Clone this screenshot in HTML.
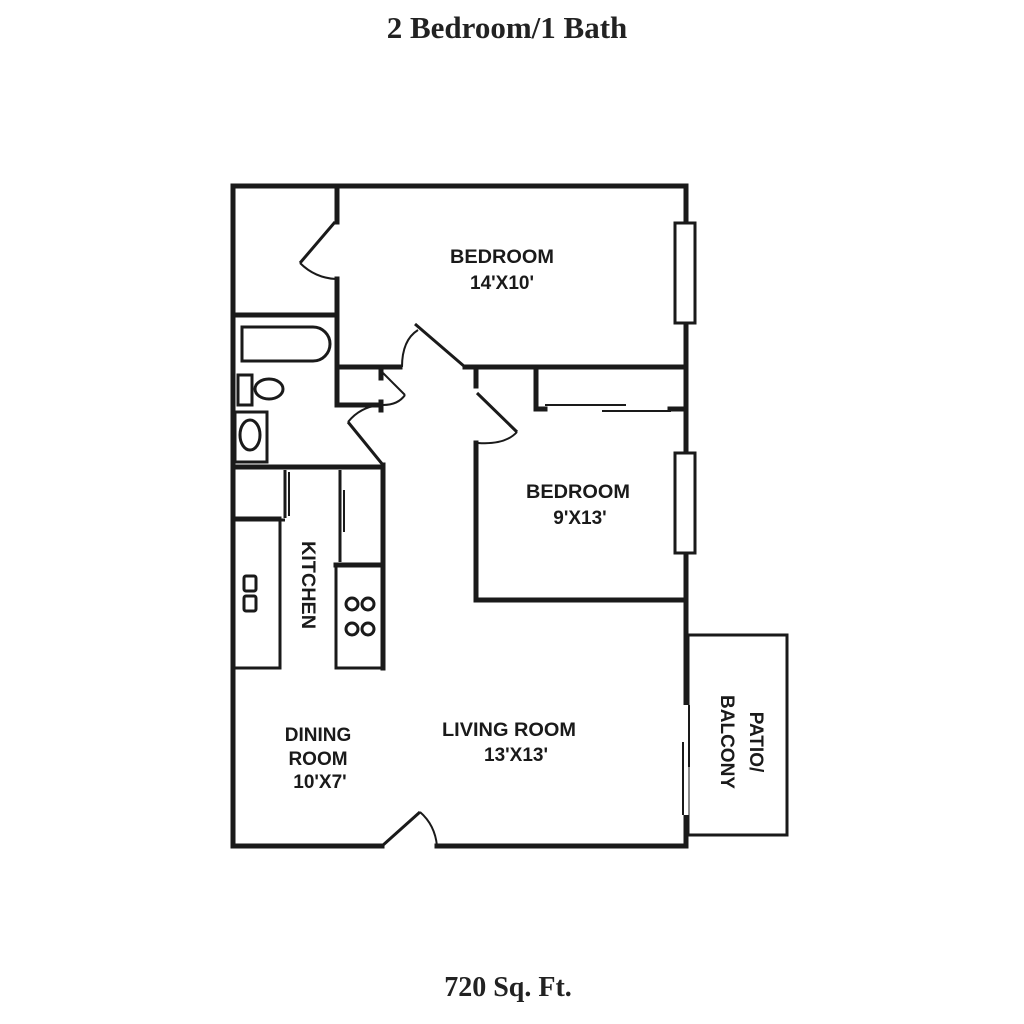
<!DOCTYPE html>
<html><head><style>body{margin:0;background:#fff}svg{display:block}</style></head><body>
<svg width="1024" height="1024" viewBox="0 0 1024 1024" xmlns="http://www.w3.org/2000/svg">
<rect width="1024" height="1024" fill="#fff"/>
<text x="507" y="38" text-anchor="middle" font-family="Liberation Serif,serif" font-weight="bold" font-size="31" fill="#222">2 Bedroom/1 Bath</text>
<text x="508" y="996" text-anchor="middle" font-family="Liberation Serif,serif" font-weight="bold" font-size="28" fill="#222">720 Sq. Ft.</text>
<g stroke="#1a1a1a" fill="none" stroke-width="5" stroke-linecap="square">
<polyline points="382,846 233,846 233,186 686,186 686,846 437,846"/>
<polyline points="337,186 337,222"/>
<polyline points="337,279 337,405 380,405"/>
<line x1="233" y1="315" x2="337" y2="315"/>
<line x1="337" y1="367" x2="400" y2="367"/>
<line x1="465" y1="367" x2="686" y2="367"/>
<line x1="233" y1="467" x2="383" y2="467"/>
<line x1="383" y1="465" x2="383" y2="668"/>
<line x1="381" y1="371" x2="381" y2="378"/>
<line x1="381" y1="402" x2="381" y2="410"/>
<line x1="476" y1="367" x2="476" y2="386"/>
<polyline points="476,443 476,600 686,600"/>
<polyline points="536,367 536,409 545,409"/>
<line x1="670" y1="409" x2="686" y2="409"/>
<line x1="336" y1="565" x2="383" y2="565"/>
</g>
<g stroke="#1a1a1a" fill="none" stroke-width="3">
<line x1="335" y1="222" x2="300" y2="263"/>
<line x1="415" y1="324" x2="465" y2="367"/>
<line x1="348" y1="422" x2="383" y2="465"/>
<line x1="477" y1="393" x2="517" y2="432"/>
<line x1="382" y1="846" x2="420" y2="812"/>
<rect x="675" y="223" width="20" height="100" fill="#fff"/>
<rect x="675" y="453" width="20" height="100" fill="#fff"/>
<rect x="688" y="635" width="99" height="200"/>
<path d="M242,327 L313,327 A17,17 0 0 1 313,361 L242,361 Z"/>
<rect x="238" y="375" width="14" height="30"/>
<ellipse cx="269" cy="389" rx="14" ry="10"/>
<rect x="235" y="412" width="32" height="50"/>
<ellipse cx="250" cy="435" rx="10" ry="15"/>
<rect x="233" y="518" width="47" height="150"/>
<rect x="244" y="576" width="12" height="15" rx="2"/>
<rect x="244" y="596" width="12" height="15" rx="2"/>
<rect x="336" y="565" width="47" height="103"/>
<circle cx="352" cy="604" r="6"/><circle cx="368" cy="604" r="6"/>
<circle cx="352" cy="629" r="6"/><circle cx="368" cy="629" r="6"/>
<line x1="233" y1="520" x2="285" y2="520"/>
<line x1="285" y1="470" x2="285" y2="518"/>
<line x1="340" y1="470" x2="340" y2="562"/>
</g>
<g stroke="#1a1a1a" fill="none" stroke-width="2">
<line x1="289" y1="472" x2="289" y2="516"/>
<line x1="344" y1="490" x2="344" y2="532"/>
<line x1="545" y1="405" x2="626" y2="405"/>
<line x1="602" y1="411" x2="671" y2="411"/>
<path d="M300,263 Q315,278 336,279"/>
<path d="M402,367 Q402,340 418,330"/>
<path d="M383,373 L405,395"/>
<path d="M405,395 Q398,405 383,405"/>
<path d="M348,422 Q360,407 380,405"/>
<path d="M517,432 Q505,445 478,443"/>
<path d="M420,812 Q435,825 437,846"/>
</g>
<line x1="686" y1="700" x2="686" y2="815" stroke="#fff" stroke-width="5"/>
<line x1="686" y1="700" x2="686" y2="705" stroke="#1a1a1a" stroke-width="5"/>
<line x1="689" y1="705" x2="689" y2="767" stroke="#1a1a1a" stroke-width="2"/>
<line x1="683" y1="742" x2="683" y2="815" stroke="#1a1a1a" stroke-width="2"/>
<g font-family="Liberation Sans,sans-serif" font-weight="bold" font-size="19" fill="#1a1a1a" text-anchor="middle">
<text x="502" y="263" textLength="104" lengthAdjust="spacingAndGlyphs">BEDROOM</text>
<text x="502" y="289">14'X10'</text>
<text x="578" y="498" textLength="104" lengthAdjust="spacingAndGlyphs">BEDROOM</text>
<text x="580" y="524">9'X13'</text>
<text x="509" y="736" textLength="134" lengthAdjust="spacingAndGlyphs">LIVING ROOM</text>
<text x="516" y="761">13'X13'</text>
<text x="318" y="741">DINING</text>
<text x="318" y="765">ROOM</text>
<text x="320" y="788">10'X7'</text>
<text transform="translate(302,585) rotate(90)" textLength="88" lengthAdjust="spacingAndGlyphs">KITCHEN</text>
<text transform="translate(750,742) rotate(90)">PATIO/</text>
<text transform="translate(721,742) rotate(90)">BALCONY</text>
</g>
</svg>
</body></html>
